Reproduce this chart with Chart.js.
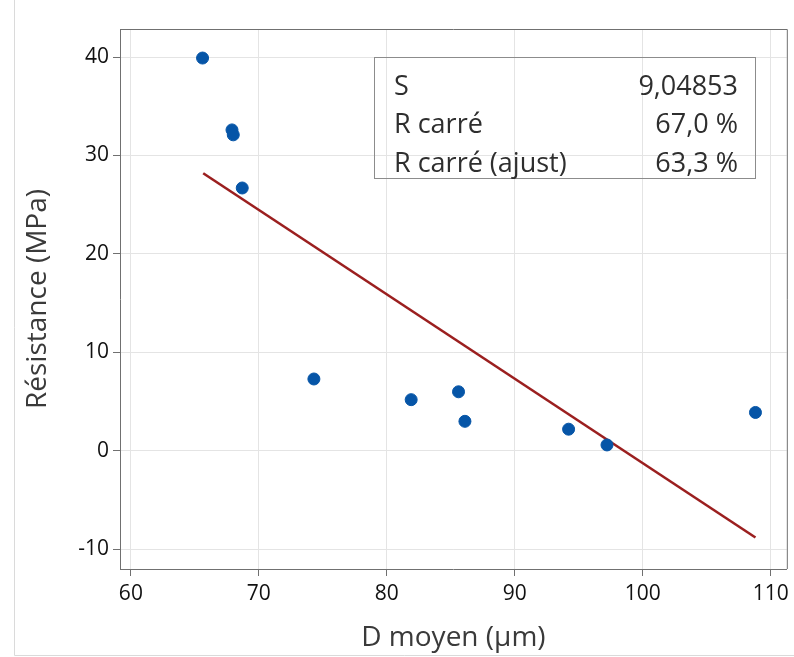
<!DOCTYPE html>
<html>
<head>
<meta charset="utf-8">
<script src="https://cdn.jsdelivr.net/npm/chart.js@4.4.1/dist/chart.umd.min.js"></script>
<style>
  html, body { margin: 0; padding: 0; background: #fff; }
  #wrap { width: 794px; height: 657px; }
</style>
</head>
<body>
<div id="wrap"><canvas id="scatter" width="794" height="657"></canvas></div>
<script>
const diametre = [65.6, 67.9, 68.0, 68.7, 74.3, 81.9, 85.6, 86.1, 94.2, 97.2, 108.8];
const resistance = [39.9, 32.6, 32.1, 26.7, 7.3, 5.2, 6.0, 3.0, 2.2, 0.6, 3.9];
const fitX = [65.65, 108.8];
const fitY = [28.2, -8.8];
const xTicks = [60, 70, 80, 90, 100, 110];
const yTicks = [-10, 0, 10, 20, 30, 40];
const statLabels = ['S', 'R carré', 'R carré (ajust)'];
const statValues = ['9,04853', '67,0 %', '63,3 %'];

const FONT = "'Open Sans', 'Noto Sans', sans-serif";

// box outline on top/right, outer frame and the stats box
const extras = {
  id: 'extras',
  afterDraw(chart) {
    const { ctx, chartArea: a } = chart;
    ctx.save();
    ctx.strokeStyle = '#707070';
    ctx.lineWidth = 1;
    ctx.beginPath();
    ctx.moveTo(a.left, a.top + 0.5);
    ctx.lineTo(a.right + 0.5, a.top + 0.5);
    ctx.lineTo(a.right + 0.5, a.bottom);
    ctx.stroke();

    ctx.strokeStyle = '#dadada';
    ctx.beginPath();
    ctx.moveTo(14.5, 0);
    ctx.lineTo(14.5, 655.5);
    ctx.lineTo(794, 655.5);
    ctx.stroke();

    ctx.strokeStyle = '#8c8c8c';
    ctx.strokeRect(374.5, 57.5, 381, 121);
    ctx.fillStyle = '#2e2e2e';
    ctx.font = '27px ' + FONT;
    ctx.textBaseline = 'middle';
    statLabels.forEach((lab, i) => {
      const y = 87 + i * 38.5;
      ctx.textAlign = 'left';
      ctx.fillText(lab, 394, y);
      ctx.textAlign = 'right';
      ctx.fillText(statValues[i], 738, y);
    });
    ctx.restore();
  }
};

const ctx = document.getElementById('scatter').getContext('2d');

const chart = new Chart(ctx, {
  type: 'scatter',
  data: {
    datasets: [{
      label: 'Résistance',
      data: diametre.map((d, i) => ({ x: d, y: resistance[i] })),
      backgroundColor: '#0655a7',
      borderColor: '#0655a7',
      pointRadius: 6,
      pointHoverRadius: 6,
      order: 0
    }, {
      type: 'line',
      label: 'Ajustement',
      data: fitX.map((d, i) => ({ x: d, y: fitY[i] })),
      borderColor: '#9b1f1f',
      borderWidth: 2.6,
      pointRadius: 0,
      fill: false,
      order: 1
    }]
  },
  options: {
    responsive: false,
    animation: false,
    layout: { padding: { top: 29, right: 6, left: 0, bottom: 0 } },
    plugins: { legend: { display: false }, tooltip: { enabled: false } },
    scales: {
      x: {
        type: 'linear',
        min: 59.15,
        max: 111.25,
        afterBuildTicks: s => { s.ticks = xTicks.map(v => ({ value: v })); },
        afterFit: s => { s.height = 88; },
        grid: { color: '#e4e4e4', tickColor: '#707070', tickLength: 7 },
        border: { color: '#707070', width: 1 },
        ticks: { color: '#111', font: { family: FONT, size: 21, weight: '500' }, padding: 5, maxRotation: 0 },
        title: {
          display: true,
          text: 'D moyen (µm)',
          color: '#3a3a3a',
          font: { family: FONT, size: 28 },
          padding: { top: 0, bottom: 2 }
        }
      },
      y: {
        type: 'linear',
        min: -12.0,
        max: 42.85,
        afterBuildTicks: s => { s.ticks = yTicks.map(v => ({ value: v })); },
        afterFit: s => { s.width = 120; },
        grid: { color: '#e4e4e4', tickColor: '#707070', tickLength: 7 },
        border: { color: '#707070', width: 1 },
        ticks: { color: '#111', font: { family: FONT, size: 21, weight: '500' }, padding: 4 },
        title: {
          display: true,
          text: 'Résistance (MPa)',
          color: '#3a3a3a',
          font: { family: FONT, size: 28 },
          padding: { top: 21, bottom: 0 }
        }
      }
    }
  },
  plugins: [extras]
});
</script>
</body>
</html>
